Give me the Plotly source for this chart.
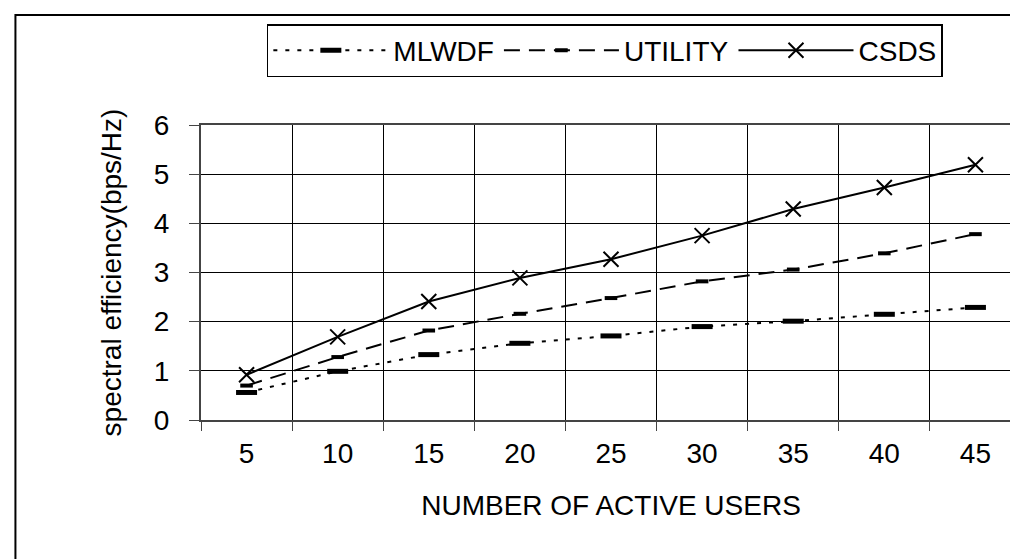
import plotly.graph_objects as go

users = ["5", "10", "15", "20", "25", "30", "35", "40", "45"]
mlwdf = [0.56, 0.99, 1.33, 1.56, 1.71, 1.90, 2.01, 2.15, 2.29]
utility = [0.70, 1.28, 1.82, 2.16, 2.48, 2.82, 3.06, 3.39, 3.78]
csds = [0.92, 1.69, 2.41, 2.89, 3.27, 3.75, 4.29, 4.73, 5.19]
y_ticks = [0, 1, 2, 3, 4, 5, 6]

FONT = "Liberation Sans, Arial, sans-serif"
FS = 28

fig = go.Figure()
fig.add_trace(go.Scatter(
    x=users, y=mlwdf, name="MLWDF", mode="lines+markers",
    line=dict(color="black", width=2, dash="4px,8px"),
    marker=dict(symbol="line-ew", size=15, color="black",
                line=dict(color="black", width=5)),
))
fig.add_trace(go.Scatter(
    x=users, y=utility, name="UTILITY", mode="lines+markers",
    line=dict(color="black", width=2, dash="16px,9px"),
    marker=dict(symbol="line-ew", size=9, color="black",
                line=dict(color="black", width=4)),
))
fig.add_trace(go.Scatter(
    x=users, y=csds, name="CSDS", mode="lines+markers",
    line=dict(color="black", width=2),
    marker=dict(symbol="x-thin", size=15, color="black",
                line=dict(color="black", width=2)),
))

# outer chart frame
fig.add_shape(type="rect", xref="paper", yref="paper",
              x0=-0.2263, x1=1.01, y0=-0.53, y1=1.373,
              line=dict(color="black", width=2), layer="below")

fig.update_layout(
    width=1018, height=559,
    margin=dict(l=193, r=3, t=117, b=147),
    paper_bgcolor="white", plot_bgcolor="white",
    font=dict(family=FONT, size=FS, color="black"),
    showlegend=True,
    legend=dict(
        orientation="h", x=0.0803, xanchor="left", y=1.342, yanchor="top",
        bordercolor="black", borderwidth=1.5, bgcolor="white",
        font=dict(family=FONT, size=FS, color="black"),
        itemwidth=115, tracegroupgap=0,
    ),
    xaxis=dict(
        type="category", tickson="boundaries",
        showgrid=True, gridcolor="black", gridwidth=1,
        showline=True, linecolor="#444", linewidth=2, mirror=True,
        ticks="outside", ticklen=9, tickcolor="#444", tickwidth=1,
        ticklabelstandoff=7,
        title=dict(text="NUMBER OF ACTIVE USERS", standoff=28,
                   font=dict(family=FONT, size=FS)),
        range=[-0.5, 8.5],
    ),
    yaxis=dict(
        range=[0, 6], tickvals=y_ticks,
        showgrid=True, gridcolor="black", gridwidth=1,
        zeroline=False,
        showline=True, linecolor="#444", linewidth=2, mirror=True,
        ticks="outside", ticklen=10, tickcolor="#444", tickwidth=1,
        ticklabelstandoff=14,
        title=dict(text="spectral efficiency(bps/Hz)", standoff=24,
                   font=dict(family=FONT, size=FS)),
    ),
)

fig.write_html("out.html")
